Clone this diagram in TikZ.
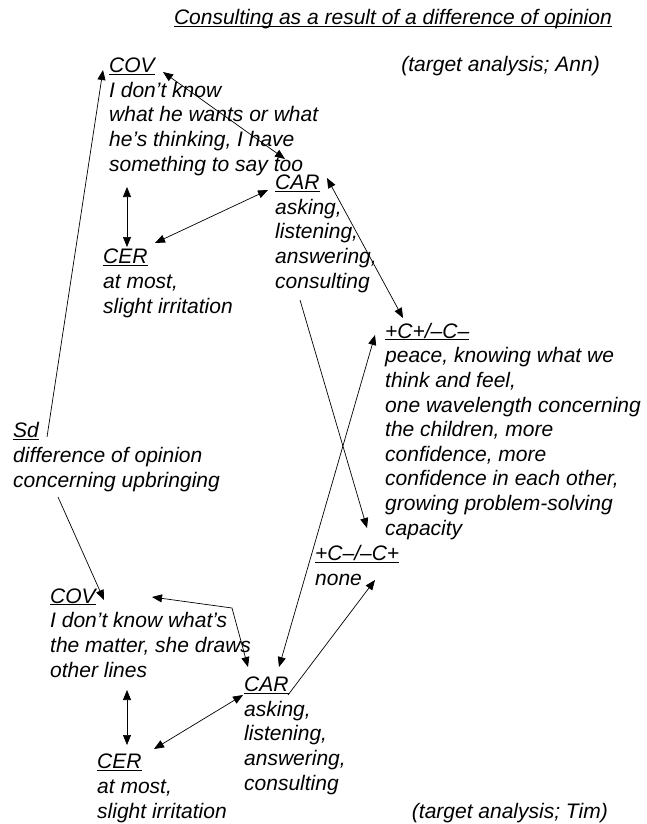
\documentclass[tikz,border=0pt]{standalone}
\usepackage{fontspec}
\setmainfont{Liberation Sans}
\usetikzlibrary{arrows.meta}
\newcommand{\myul}[1]{\underline{\smash{#1}}}
\begin{document}
\begin{tikzpicture}[x=1pt,y=-1pt,
  txt/.style={anchor=base west, inner sep=0pt, align=left, font=\fontsize{21}{24.6}\selectfont\itshape},
  txtr/.style={txt, anchor=base east},
  con/.style={line width=0.7pt, -{Triangle[length=10pt,width=8pt]}},
  con2/.style={line width=0.7pt, {Triangle[length=10pt,width=8pt]}-{Triangle[length=10pt,width=8pt]}}]
\useasboundingbox (0,0) rectangle (646,824);

% multi-line nodes are placed at the baseline of their last line
\node[txtr] (title) at (612,25) {\myul{Consulting as a result of a difference of opinion}};
\node[txtr] (ann) at (600,72) {(target analysis; Ann)};
\node[txtr] (tim) at (608,818) {(target analysis; Tim)};

\node[txt] (cov1) at (109,171) {\myul{COV}\\I don’t know\\what he wants or what\\he’s thinking, I have\\something to say too};
\node[txt] (car1) at (275,288) {\myul{CAR}\\asking,\\listening,\\answering,\\consulting};
\node[txt] (cer1) at (103,313) {\myul{CER}\\at most,\\slight irritation};
\node[txt] (cpos) at (385,535) {\myul{+C+/–C–}\\peace, knowing what we\\think and feel,\\one wavelength concerning\\the children, more\\confidence, more\\confidence in each other,\\growing problem-solving\\capacity};
\node[txt] (sd) at (13,487) {\myul{Sd}\\difference of opinion\\concerning upbringing};
\node[txt] (cneg) at (315,585) {\myul{+C–/–C+}\\none};
\node[txt] (cov2) at (50,677) {\myul{COV}\\I don’t know what’s\\the matter, she draws\\other lines};
\node[txt] (car2) at (244,790) {\myul{CAR}\\asking,\\listening,\\answering,\\consulting};
\node[txt] (cer2) at (97,818) {\myul{CER}\\at most,\\slight irritation};

% connector end points
\coordinate (sd-a) at (47,437);
\coordinate (cov1-a) at (103,70);
\coordinate (cov1-b) at (163,72);
\coordinate (car1-a) at (285,159);
\coordinate (cov1-c) at (127,187);
\coordinate (cer1-a) at (127,247);
\coordinate (cer1-b) at (155,243);
\coordinate (car1-b) at (268,190);
\coordinate (car1-c) at (327,178);
\coordinate (cpos-a) at (403,318);
\coordinate (car1-d) at (300,300);
\coordinate (cneg-a) at (367,528);
\coordinate (cpos-b) at (375,335);
\coordinate (car2-a) at (279,667);
\coordinate (car2-b) at (288,695);
\coordinate (cneg-b) at (375,580);
\coordinate (sd-b) at (58,497);
\coordinate (cov2-a) at (104,600);
\coordinate (cov2-b) at (152,597);
\coordinate (bend) at (232,608);
\coordinate (car2-c) at (248,667);
\coordinate (cov2-c) at (127,690);
\coordinate (cer2-a) at (127,745);
\coordinate (cer2-b) at (154,749);
\coordinate (car2-d) at (243,695);

\draw[con] (sd-a) -- (cov1-a);
\draw[con2] (cov1-b) -- (car1-a);
\draw[con2] (cov1-c) -- (cer1-a);
\draw[con2] (cer1-b) -- (car1-b);
\draw[con2] (car1-c) -- (cpos-a);
\draw[con] (car1-d) -- (cneg-a);
\draw[con2] (cpos-b) -- (car2-a);
\draw[con] (car2-b) -- (cneg-b);
\draw[con] (sd-b) -- (cov2-a);
\draw[con2] (cov2-b) -- (bend) -- (car2-c);
\draw[con2] (cov2-c) -- (cer2-a);
\draw[con2] (cer2-b) -- (car2-d);
\end{tikzpicture}
\end{document}
